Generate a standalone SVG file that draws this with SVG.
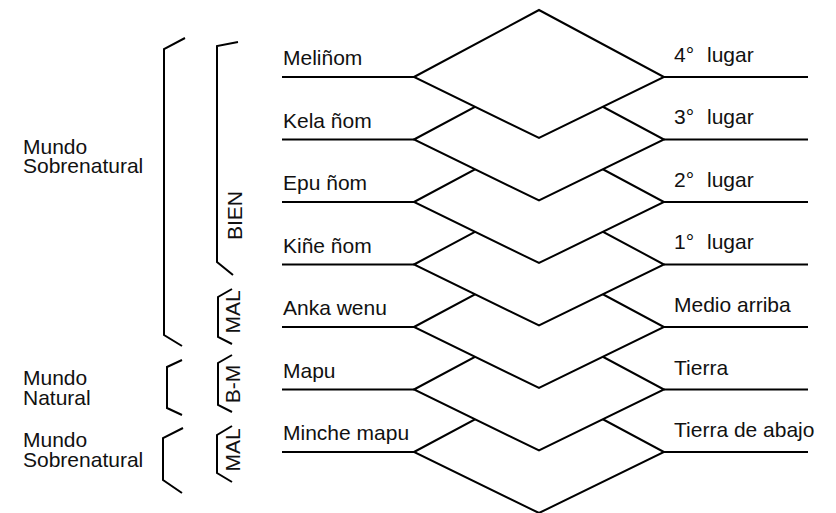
<svg xmlns="http://www.w3.org/2000/svg" width="836" height="513" viewBox="0 0 836 513">
<style>
.t{font-family:"Liberation Sans",Arial,sans-serif;font-size:21px;fill:#111}
.d{fill:#fff;stroke:#000;stroke-width:2;stroke-linejoin:miter}
.l{fill:none;stroke:#000;stroke-width:2}
.b{fill:none;stroke:#000;stroke-width:2;stroke-linejoin:miter}
</style>
<rect width="836" height="513" fill="#fff"/>
<g id="connectors">
<path class="l" d="M282 77H414M664 77H808M282 139.5H414M664 139.5H808M282 202H414M664 202H808M282 264.5H414M664 264.5H808M282 327H414M664 327H808M282 389.5H414M664 389.5H808M282 452H414M664 452H808"/>
</g>
<g id="diamonds">
<polygon id="d7" class="d" points="414,452 539,385 664,452 539,513"/>
<polygon id="d6" class="d" points="414,389.5 539,322.5 664,389.5 539,450.5"/>
<polygon id="d5" class="d" points="414,327 539,260 664,327 539,388"/>
<polygon id="d4" class="d" points="414,264.5 539,197.5 664,264.5 539,325.5"/>
<polygon id="d3" class="d" points="414,202 539,135 664,202 539,263"/>
<polygon id="d2" class="d" points="414,139.5 539,72.5 664,139.5 539,200.5"/>
<polygon id="d1" class="d" points="414,77 539,10 664,77 539,138"/>
</g>
<g id="level-labels">
<text class="t" x="283" y="65">Meliñom</text>
<text class="t" x="283" y="127.5">Kela ñom</text>
<text class="t" x="283" y="190">Epu ñom</text>
<text class="t" x="283" y="252.5">Kiñe ñom</text>
<text class="t" x="283" y="315">Anka wenu</text>
<text class="t" x="283" y="377.5">Mapu</text>
<text class="t" x="283" y="440">Minche mapu</text>
<text class="t" x="674" y="62">4°<tspan x="707">lugar</tspan></text>
<text class="t" x="674" y="124">3°<tspan x="707">lugar</tspan></text>
<text class="t" x="674" y="186.5">2°<tspan x="707">lugar</tspan></text>
<text class="t" x="674" y="249">1°<tspan x="707">lugar</tspan></text>
<text class="t" x="674" y="312">Medio arriba</text>
<text class="t" x="674" y="375">Tierra</text>
<text class="t" x="674" y="437">Tierra de abajo</text>
</g>
<g id="group-mundo-sobrenatural-1">
<path class="b" d="M185 38L164 49V335L182 346"/>
<text class="t" x="23" y="154">Mundo</text>
<text class="t" x="23" y="173">Sobrenatural</text>
</g>
<g id="group-bien">
<path class="b" d="M238 42L217 46V262L233 275"/>
<text class="t" transform="translate(241.5 215.5) rotate(-90)" text-anchor="middle">BIEN</text>
</g>
<g id="group-mal-1">
<path class="b" d="M232 289L218 297V337L232 344"/>
<text class="t" transform="translate(240 312) rotate(-90)" text-anchor="middle">MAL</text>
</g>
<g id="group-mundo-natural">
<path class="b" d="M182 360L167 367V408L182 415"/>
<text class="t" x="23" y="385">Mundo</text>
<text class="t" x="23" y="405">Natural</text>
</g>
<g id="group-b-m">
<path class="b" d="M232 355L218 363V405L232 412"/>
<text class="t" transform="translate(240 384) rotate(-90)" text-anchor="middle">B-M</text>
</g>
<g id="group-mundo-sobrenatural-2">
<path class="b" d="M183 428L163 438V480L182 493"/>
<text class="t" x="23" y="447">Mundo</text>
<text class="t" x="23" y="467">Sobrenatural</text>
</g>
<g id="group-mal-2">
<path class="b" d="M232 426L217 435V473L232 482"/>
<text class="t" transform="translate(240 450) rotate(-90)" text-anchor="middle">MAL</text>
</g>
</svg>
